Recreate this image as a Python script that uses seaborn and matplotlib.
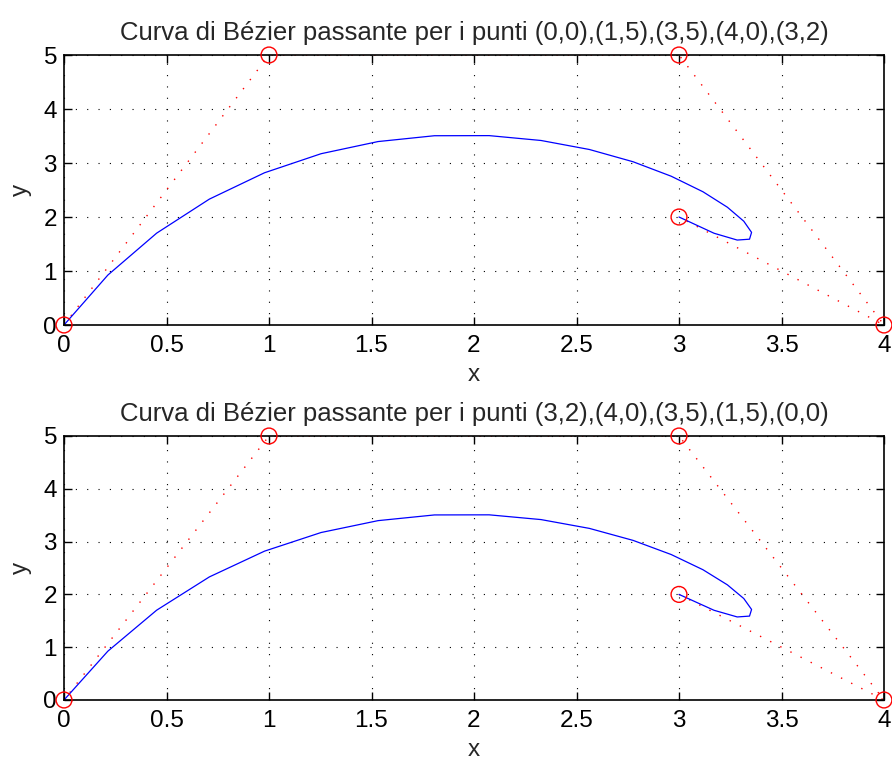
import matplotlib
matplotlib.use("Agg")
import matplotlib.pyplot as plt
import seaborn as sns
import pandas as pd

# Control points
ctrl_x = [0, 1, 3, 4, 3]
ctrl_y = [0, 5, 5, 0, 2]

# Curve points
curve_x = [0.0, 0.214, 0.452, 0.709, 0.978, 1.254, 1.532, 1.807, 2.074, 2.327,
           2.563, 2.776, 2.962, 3.117, 3.236, 3.316, 3.354, 3.344, 3.284, 3.171, 3.0]
curve_y = [0.0, 0.925, 1.701, 2.331, 2.819, 3.172, 3.397, 3.505, 3.507, 3.417,
           3.250, 3.023, 2.755, 2.467, 2.181, 1.922, 1.715, 1.589, 1.573, 1.699, 2.0]

titles = ["Curva di Bézier passante per i punti (0,0),(1,5),(3,5),(4,0),(3,2)",
          "Curva di Bézier passante per i punti (3,2),(4,0),(3,5),(1,5),(0,0)"]
x_ticks = [0, 0.5, 1, 1.5, 2, 2.5, 3, 3.5, 4]
x_labels = ["0", "0.5", "1", "1.5", "2", "2.5", "3", "3.5", "4"]
y_ticks = [0, 1, 2, 3, 4, 5]

sns.set_style("white")
plt.rcParams['font.family'] = ['Liberation Sans', 'DejaVu Sans']

fig = plt.figure(figsize=(8.92, 7.62), dpi=100)
W, H = 892, 762
boxes = [(64, 55, 884, 325), (64, 436, 884, 700)]

for i, (l, t, r, b) in enumerate(boxes):
    ax = fig.add_axes([l / W, 1 - b / H, (r - l) / W, (b - t) / H])
    if i == 0:
        cx, cy = ctrl_x, ctrl_y
        bx, by = curve_x, curve_y
    else:
        cx, cy = ctrl_x[::-1], ctrl_y[::-1]
        bx, by = curve_x[::-1], curve_y[::-1]
    dfc = pd.DataFrame({"x": cx, "y": cy})
    dfb = pd.DataFrame({"x": bx, "y": by})
    sns.lineplot(data=dfc, x="x", y="y", sort=False, estimator=None, ax=ax,
                 color="red", linestyle=(0, (1, 7.2)), linewidth=1.0)
    sns.lineplot(data=dfb, x="x", y="y", sort=False, estimator=None, ax=ax,
                 color="blue", linewidth=0.9)
    sns.scatterplot(data=dfc, x="x", y="y", ax=ax, marker="o", s=130,
                    facecolors="none", edgecolor="red", linewidth=1.0,
                    zorder=5, clip_on=False)
    ax.set_xlim(0, 4)
    ax.set_ylim(0, 5)
    ax.set_xticks(x_ticks)
    ax.set_xticklabels(x_labels)
    ax.set_yticks(y_ticks)
    ax.grid(True, color="black", linestyle=(0, (1, 9.2)), linewidth=0.8)
    ax.tick_params(direction="in", length=6, width=1, labelsize=17.5,
                   top=True, right=True, bottom=True, left=True,
                   colors="black")
    ax.tick_params(axis="x", pad=7)
    ax.tick_params(axis="y", pad=5)
    for s in ax.spines.values():
        s.set_visible(True)
        s.set_color("black")
        s.set_linewidth(1.2)
    ax.set_xlabel("x", fontsize=17.5, labelpad=5)
    ax.set_ylabel("y", fontsize=17.5, labelpad=8)
    ax.set_title(titles[i], fontsize=18.5, pad=11)

fig.savefig("out.png", dpi=100)
